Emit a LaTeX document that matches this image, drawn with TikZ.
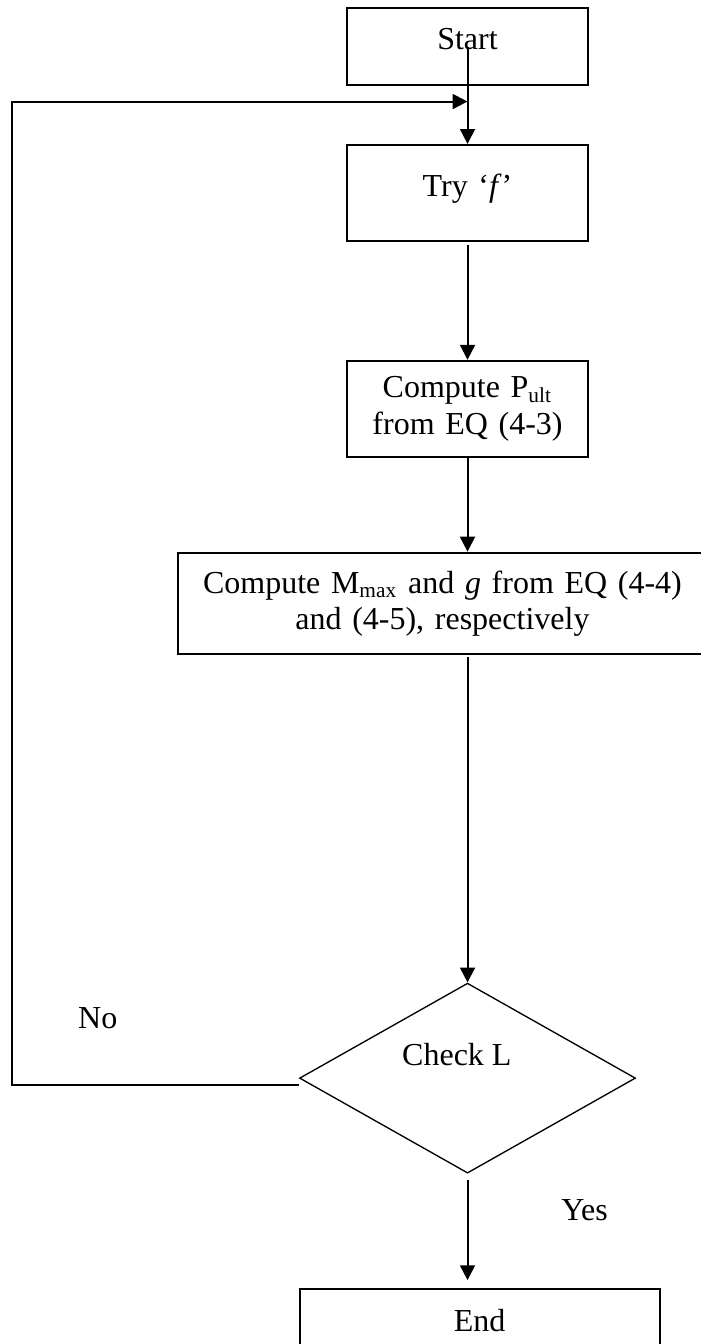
\documentclass[tikz,border=0pt]{standalone}
\usepackage{fontspec}
\setmainfont{Liberation Serif}
\usetikzlibrary{positioning,shapes.geometric,arrows.meta,calc}

\begin{document}
\begin{tikzpicture}
[font=\fontsize{12}{13.5}\selectfont,
block/.style ={rectangle, draw, line width=0.75pt,
text width=84pt, align=center, inner sep=0pt,
minimum width=90.4pt, minimum height=36pt},
wide/.style ={block, text width=192pt,
minimum width=198pt, minimum height=37.9pt},
terminal/.style ={rectangle, draw, line width=0.75pt,
minimum width=90.4pt, minimum height=28.9pt,
text height=8.5pt, text depth=6pt},
raised/.style ={text height=8.5pt, text depth=6pt},
decision/.style ={diamond, draw, line width=0.5pt,
aspect=1.77, inner sep=0pt,
minimum width=126pt, minimum height=71.25pt,
text height=8.5pt, text depth=18pt},
line/.style ={draw, line width=0.75pt,
-{Triangle[length=5.6pt,width=5.6pt]}}]
\matrix (chart) [row sep=0pt, inner sep=0pt]
{
\node [terminal] (start) {Start}; \\[21.7pt]
% row 2
\node [block, raised] (try) {Try ‘\textit{f}’}; \\[44.2pt]
% row 3
\node [block] (pult) {Compute P\textsubscript{ult}\\ from EQ (4-3)}; \\[35.2pt]
% row 4
\node [wide, xshift=-9.4pt] (mmax)
{Compute M\textsubscript{max} and \textit{g} from EQ (4-4)\\ and (4-5), respectively}; \\[123pt]
% row 5
\node [decision] (check) {Check L\hspace*{8pt}}; \\[43pt]
% row 6
\node [terminal, minimum width=135pt, xshift=4.5pt] (end) {End}; \\
};
\coordinate (origin) at ($(start.north west)+(-129.75pt,2.625pt)$);
\coordinate (merge) at ([yshift=-5.8pt]start.south);
\coordinate (back) at ($(merge)+(-171pt,0)$);
\draw[line] (start.center) -- (try.north);
\draw[line, shorten <=1pt] (try.south) -- (pult.north);
\draw[line] (pult.south) -- (pult.south |- mmax.north);
\draw[line, shorten <=1pt] (mmax.south -| check.north) -- (check.north);
\draw[line, shorten <=2.2pt, shorten >=3pt] (check.south) -- (check.south |- end.north);
\draw[line] ([yshift=-2.6pt]check.west) -| (back) -- (merge);
\node (no) at ([xshift=-75.4pt, yshift=22.5pt]check.west) {No};
\node (yes) at ([xshift=43.9pt, yshift=-13.5pt]check.south) {Yes};
\pgfresetboundingbox
\path[use as bounding box] (origin) rectangle ++(262.875pt,-504pt);
\end{tikzpicture}
\end{document}
